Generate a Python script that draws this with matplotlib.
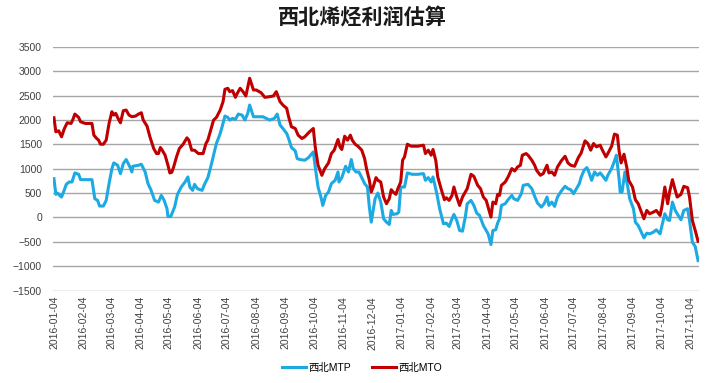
import numpy as np
import pandas as pd
import matplotlib
matplotlib.use("Agg")
import matplotlib.pyplot as plt
import matplotlib.dates as mdates

plt.rcParams['font.family'] = ['Liberation Sans', 'Noto Sans CJK SC', 'DejaVu Sans']

title = "西北烯烃利润估算"
start_date = "2016-01-04"
series_names = ["西北MTP", "西北MTO"]

# days counted from 2016-01-04
mtp_days = [0, 2, 4, 6, 8, 11, 13, 16, 19, 22, 26, 28, 34, 40, 43, 46, 48, 52, 55, 58,
            61, 63, 67, 70, 73, 76, 80, 82, 83, 89, 92, 96, 99, 102, 106, 110, 113, 116, 119, 120,
            123, 127, 130, 134, 138, 141, 143, 146, 148, 151, 156, 158, 162, 165, 168, 171, 175, 177, 180, 183,
            185, 188, 191, 194, 198, 201, 204, 206, 210, 215, 220, 227, 232, 235, 238, 241, 245, 247, 250, 254,
            256, 259, 264, 268, 273, 275, 278, 281, 283, 286, 289, 292, 296, 299, 300, 303, 307, 310, 313, 315,
            318, 321, 324, 327, 330, 332, 334, 336, 338, 341, 344, 347, 350, 353, 355, 357, 361, 363, 365, 369,
            372, 377, 383, 389, 391, 394, 397, 399, 403, 406, 410, 413, 416, 419, 421, 424, 427, 430, 433, 435,
            439, 442, 445, 448, 452, 455, 457, 460, 462, 465, 467, 469, 471, 475, 478, 482, 484, 488, 492, 494,
            499, 503, 506, 509, 513, 516, 519, 521, 524, 527, 530, 534, 538, 541, 544, 547, 549, 553, 555, 558,
            561, 563, 566, 569, 572, 575, 577, 581, 583, 587, 590, 592, 595, 596, 598, 601, 604, 606, 610, 612,
            615, 619, 621, 624, 627, 631, 634, 638, 640, 643, 646, 648, 651, 654, 656, 660, 663, 667, 669, 672,
            675, 678]
mtp_values = [797, 474, 501, 453, 419, 570, 680, 728, 728, 914, 886, 776, 776, 776, 385, 350, 234, 234, 350, 694,
              1003, 1120, 1072, 900, 1106, 1189, 1037, 934, 1051, 1072, 1092, 934, 694, 570, 350, 316, 453, 350, 179, 21,
              21, 213, 474, 625, 728, 831, 625, 556, 680, 591, 556, 660, 818, 1037, 1278, 1518, 1724, 1862, 2082, 2054,
              1999, 2034, 2013, 2123, 2102, 1999, 2137, 2308, 2068, 2068, 2068, 1999, 2034, 2123, 1896, 1827, 1724, 1621, 1436, 1367,
              1209, 1189, 1175, 1230, 1346, 1037, 625, 419, 247, 453, 522, 694, 763, 934, 728, 818, 1051, 934, 1189, 1003,
              934, 934, 818, 694, 625, 213, -96, 144, 385, 501, 316, -27, -96, -144, 144, 62, 76, 110, 625, 625,
              914, 886, 886, 900, 763, 818, 728, 831, 488, 179, -131, -117, -185, -27, 62, -62, -268, -282, 7, 282,
              350, 247, 89, 41, -165, -268, -337, -556, -268, -254, -117, -27, 247, 282, 364, 453, 385, 350, 488, 660,
              680, 591, 433, 295, 213, 282, 419, 247, 316, 227, 419, 543, 639, 591, 570, 488, 556, 694, 831, 969,
              1024, 934, 763, 934, 866, 914, 866, 763, 866, 1003, 1161, 1278, 763, 522, 522, 934, 625, 385, 179, -96,
              -165, -337, -419, -323, -337, -302, -254, -337, -165, 76, -48, -62, 316, 144, 76, -48, 144, 179, -62, -508,
              -598, -886]

mto_days = [0, 2, 5, 6, 8, 11, 14, 18, 20, 22, 26, 28, 33, 40, 42, 45, 47, 49, 52, 55,
            58, 61, 63, 65, 68, 70, 73, 76, 79, 82, 86, 89, 92, 94, 98, 101, 105, 108, 110, 112,
            114, 117, 120, 122, 124, 126, 129, 132, 136, 140, 142, 145, 148, 152, 157, 160, 162, 165, 168, 171,
            175, 178, 180, 183, 185, 188, 191, 193, 196, 199, 202, 206, 210, 213, 218, 222, 227, 231, 234, 238,
            241, 245, 247, 250, 254, 257, 261, 264, 269, 273, 275, 278, 282, 285, 289, 292, 295, 299, 301, 303,
            306, 309, 312, 314, 317, 320, 324, 327, 329, 332, 334, 336, 339, 341, 344, 347, 350, 353, 355, 357,
            360, 362, 365, 367, 369, 372, 376, 383, 389, 391, 394, 397, 399, 402, 404, 408, 411, 413, 416, 419,
            421, 424, 427, 430, 433, 435, 439, 442, 446, 449, 452, 455, 460, 462, 465, 467, 469, 471, 475, 478,
            482, 485, 488, 491, 493, 497, 499, 503, 506, 508, 512, 515, 519, 521, 524, 527, 530, 534, 538, 541,
            544, 548, 552, 555, 559, 562, 565, 568, 571, 575, 577, 581, 583, 587, 590, 593, 595, 597, 600, 603,
            605, 609, 612, 615, 619, 621, 624, 627, 631, 634, 638, 640, 643, 646, 648, 651, 654, 656, 660, 663,
            667, 669, 672, 675, 678]
mto_values = [2047, 1759, 1779, 1738, 1656, 1827, 1944, 1930, 2013, 2123, 2054, 1965, 1930, 1930, 1690, 1621, 1587, 1504, 1504, 1587,
              1930, 2171, 2102, 2137, 2013, 1944, 2192, 2205, 2102, 2068, 2082, 2123, 2150, 1999, 1875, 1656, 1415, 1312, 1312, 1436,
              1381, 1278, 1072, 914, 927, 1037, 1243, 1415, 1504, 1635, 1587, 1381, 1381, 1312, 1312, 1518, 1587, 1793, 1999, 2054,
              2205, 2377, 2631, 2652, 2583, 2604, 2466, 2549, 2652, 2583, 2494, 2858, 2617, 2617, 2562, 2466, 2480, 2494, 2583, 2377,
              2308, 2240, 2068, 1862, 1827, 1690, 1621, 1656, 1759, 1827, 1450, 1072, 866, 1003, 1120, 1312, 1381, 1601, 1450, 1395,
              1669, 1587, 1690, 1587, 1504, 1463, 1381, 1209, 1003, 763, 522, 625, 818, 763, 728, 419, 282, 385, 570, 522,
              474, 591, 728, 1175, 1243, 1504, 1463, 1463, 1484, 1312, 1381, 1278, 1395, 1161, 831, 556, 364, 405, 350, 453,
              625, 419, 247, 419, 522, 591, 886, 845, 660, 591, 419, 350, 7, 316, 282, 474, 453, 660, 728, 831,
              1003, 955, 1037, 1072, 1278, 1312, 1278, 1175, 1072, 969, 866, 900, 1072, 914, 934, 866, 1037, 1161, 1257, 1120,
              1072, 1051, 1230, 1326, 1573, 1518, 1381, 1518, 1450, 1484, 1395, 1243, 1312, 1463, 1711, 1690, 1346, 1120, 1298, 1024,
              763, 625, 364, 282, 76, -27, 144, 76, 110, 144, 41, 227, 625, 282, 522, 776, 556, 419, 474, 639,
              611, 419, -62, -268, -488]

t0 = pd.Timestamp(start_date)
mtp_dates = t0 + pd.to_timedelta(mtp_days, unit="D")
mto_dates = t0 + pd.to_timedelta(mto_days, unit="D")

fig = plt.figure(figsize=(7.24, 3.83), dpi=100)
ax = fig.add_axes([0.0732, 0.2415, 0.8923, 0.6358])

ax.plot(mtp_dates, mtp_values, color="#1DAAE2", lw=2.2, label=series_names[0], solid_joinstyle="round")
ax.plot(mto_dates, mto_values, color="#C00000", lw=2.2, label=series_names[1], solid_joinstyle="round")

ax.set_ylim(-1500, 3500)
ax.set_yticks(np.arange(-1500, 3501, 500))
ax.set_xlim(t0 - pd.Timedelta(days=1), mto_dates[-1] + pd.Timedelta(days=1))

ax.xaxis.set_major_locator(mdates.MonthLocator(bymonthday=4))
ax.xaxis.set_major_formatter(mdates.DateFormatter("%Y-%m-%d"))
for lab in ax.get_xticklabels():
    lab.set_rotation(90)

ax.tick_params(axis="x", length=0, labelsize=7.5, labelcolor="#404040", pad=4)
ax.tick_params(axis="y", length=0, labelsize=7.5, labelcolor="#404040", pad=8)
ax.grid(axis="y", color="#A6A6A6", lw=1)
ax.set_axisbelow(True)
for s in ax.spines.values():
    s.set_visible(False)

fig.text(0.5, 0.953, title, ha="center", va="center", fontsize=15.2, fontweight="bold",
         family=["Noto Sans CJK SC", "DejaVu Sans"], color="#1a1a1a")

fig.legend(loc="center", bbox_to_anchor=(0.5, 0.039), ncol=2, frameon=False,
           fontsize=7.5, handlelength=2.3, handletextpad=0.2, columnspacing=2.0)

fig.savefig("out.png", dpi=100)
